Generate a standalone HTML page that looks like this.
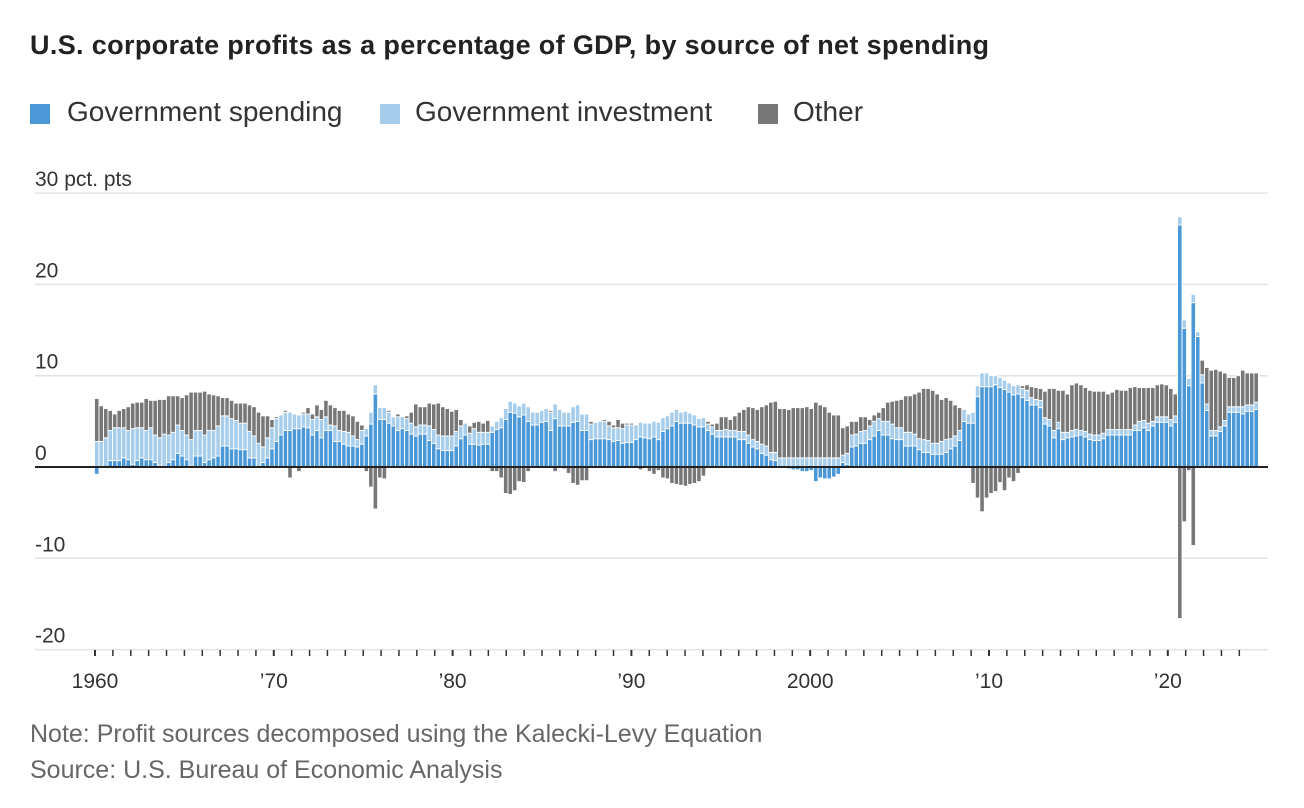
<!DOCTYPE html>
<html><head><meta charset="utf-8"><style>
body{margin:0;background:#fff;font-family:"Liberation Sans",sans-serif;}
#wrap{position:relative;width:1304px;height:808px;overflow:hidden;}
.t{position:absolute;white-space:nowrap;}
.sq{position:absolute;width:20px;height:20px;top:104px;}
.lg{position:absolute;top:96px;font-size:28px;color:#333;white-space:nowrap;}
</style></head><body>
<div id="wrap">
<div class="t" style="left:30px;top:30px;font-size:27px;font-weight:bold;color:#222;letter-spacing:0.35px;">U.S. corporate profits as a percentage of GDP, by source of net spending</div>
<div>
<div><div class="sq" style="left:30px;background:#4a98d8;"></div><div class="lg" style="left:67px;">Government spending</div></div>
<div><div class="sq" style="left:380px;background:#a6cdec;"></div><div class="lg" style="left:415px;">Government investment</div></div>
<div><div class="sq" style="left:758px;background:#777;"></div><div class="lg" style="left:793px;">Other</div></div>
</div>
<svg id="chart" width="1304" height="808" style="position:absolute;left:0;top:0;"></svg>
<div class="t" style="left:30px;top:720px;font-size:25px;color:#666;">Note: Profit sources decomposed using the Kalecki-Levy Equation</div>
<div class="t" style="left:30px;top:756px;font-size:25px;color:#666;">Source: U.S. Bureau of Economic Analysis</div>
</div>
<script>
const spending=[-0.8,0,0,0.7,0.7,0.7,1.0,0.8,0.3,0.7,1.0,0.8,0.8,0.5,0.2,0,0.5,0.8,1.5,1.2,0.8,0.1,1.2,1.2,0.5,0.8,1.0,1.2,2.3,2.3,2.0,2.0,1.9,1.9,1.0,1.0,0,0.5,1.0,2.0,
2.8,3.5,4.0,4.0,4.2,4.2,4.4,4.3,3.5,4.0,3.2,4.0,4.0,2.8,2.8,2.5,2.3,2.3,2.2,2.5,3.4,4.7,8.0,5.2,5.2,4.8,4.5,4.0,4.2,4.0,3.6,3.4,3.6,3.6,2.9,2.6,2.0,1.8,1.8,1.8,
2.3,3.1,3.5,2.5,2.5,2.4,2.5,2.5,3.8,4.1,4.3,5.2,6.0,5.9,5.5,5.7,5.0,4.6,4.6,4.9,5.0,4.0,5.3,4.5,4.5,4.5,4.9,5.0,4.0,4.0,3.0,3.1,3.1,3.1,3.0,2.8,2.9,2.6,2.7,2.7,
3.0,3.3,3.2,3.1,3.3,3.0,3.9,4.2,4.5,5.0,4.8,4.8,4.8,4.6,4.4,4.4,4.0,3.6,3.3,3.3,3.3,3.3,3.3,3.0,3.0,2.6,2.2,2.0,1.5,1.3,0.8,0.7,0,0,-0.2,-0.3,-0.3,-0.5,-0.5,-0.4,
-1.6,-1.2,-1.3,-1.3,-1.1,-0.8,0.5,0.3,2.2,2.3,2.6,2.6,3.0,3.4,4.0,3.5,3.5,3.1,3.0,3.0,2.3,2.3,2.3,1.9,1.6,1.6,1.4,1.4,1.4,1.6,2.0,2.3,2.9,5.0,4.8,4.8,7.7,8.8,8.8,8.8,
9.0,8.7,8.5,8.2,7.9,8.0,7.6,7.3,6.8,6.8,6.5,4.7,4.5,3.2,4.2,3.0,3.2,3.3,3.4,3.5,3.3,3.0,2.9,2.9,3.1,3.5,3.5,3.5,3.5,3.5,3.5,4.0,4.0,4.3,4.0,4.5,4.9,4.9,4.9,4.5,
4.9,26.5,15.2,8.9,18.0,14.3,9.2,6.2,3.4,3.4,3.9,4.5,6.0,6.0,6.0,5.8,6.1,6.1,6.3];
const investment=[2.8,2.8,3.2,3.3,3.6,3.6,3.3,3.2,3.9,3.6,3.3,3.2,3.5,3.0,3.0,3.6,3.0,3.0,3.1,2.8,2.7,2.9,2.8,2.8,3.0,3.2,3.0,3.3,3.3,3.3,3.3,3.1,2.9,2.9,2.9,2.4,2.6,1.7,2.2,2.3,
2.5,2.2,2.0,2.0,1.6,1.5,1.4,1.5,1.7,1.5,2.0,1.5,0.6,1.7,1.2,1.4,1.5,1.1,0.8,1.5,0.8,1.3,1.0,1.3,1.3,1.2,1.0,1.5,1.3,1.3,1.2,1.0,1.0,1.0,1.6,1.5,1.5,1.6,1.6,1.6,
1.6,1.4,1.3,1.2,1.7,1.4,1.3,1.3,0.7,0.9,1.1,1.2,1.2,1.1,1.2,1.3,1.6,1.4,1.4,1.3,1.4,2.0,1.6,1.8,1.5,1.5,1.7,1.8,1.8,1.8,1.7,1.8,1.9,1.9,1.5,1.5,1.4,1.6,1.9,1.9,
1.6,1.6,1.6,1.7,1.7,1.9,1.5,1.4,1.5,1.3,1.2,1.3,1.1,1.1,0.9,1.0,0.7,0.8,0.7,0.7,0.8,0.7,0.7,0.9,0.9,0.9,0.8,0.8,1.0,1.0,0.8,0.9,1.0,1.0,1.0,1.0,1.0,1.0,1.0,1.0,
1.0,1.0,1.0,1.0,1.0,1.0,0.8,1.2,1.3,1.3,1.3,1.4,1.5,1.6,1.3,1.5,1.5,1.6,1.3,1.3,1.5,1.5,1.3,1.2,1.4,1.3,1.2,1.2,1.4,1.4,1.1,1.1,1.1,1.3,1.0,1.2,1.2,1.5,1.5,1.2,
1.0,1.1,1.0,1.0,1.0,1.0,1.0,1.1,0.8,0.6,0.8,0.7,0.7,0.8,0.7,0.8,0.6,0.7,0.7,0.5,0.6,0.6,0.6,0.6,0.6,0.6,0.6,0.6,0.6,0.6,0.6,0.6,1.0,0.8,0.8,0.5,0.6,0.6,0.6,0.7,
0.7,0.9,0.9,0.8,0.9,0.5,0.9,0.7,0.6,0.6,0.5,0.6,0.6,0.6,0.6,0.8,0.7,0.7,0.8];
const other=[4.7,3.9,3.2,2.2,1.5,1.9,2.1,2.6,2.8,2.8,2.8,3.5,3.0,3.8,4.2,3.8,4.3,4.0,3.2,3.6,4.4,5.2,4.2,4.2,4.8,4.0,3.9,3.3,2.0,2.0,2.0,1.9,2.2,2.2,2.9,3.2,3.4,3.4,2.4,0.9,
0.2,0,0.2,-1.2,-0.1,-0.5,0.2,0.7,0.6,1.3,1.1,1.8,2.2,2.0,2.2,2.3,2.0,2.2,2.0,0.6,-0.5,-2.2,-4.6,-1.2,-1.3,0.2,0.1,0.3,0,0.3,1.2,2.5,2.0,2.0,2.5,2.8,3.5,3.2,3.0,2.7,
2.4,0.7,0,0.8,0.7,1.2,1.0,1.3,-0.5,-0.5,-1.2,-2.9,-3.0,-2.6,-1.6,-1.7,-0.5,0,0,0,0,0.2,-0.5,0,-0.2,-0.7,-1.8,-2.0,-1.5,-1.5,0.3,0.1,0.1,0.2,0.5,0.3,0.9,0.6,0.2,0.2,
0,-0.3,0,-0.5,-0.8,-0.4,-1.2,-1.3,-1.8,-1.9,-2.0,-2.1,-1.9,-1.8,-1.6,-1.0,0.3,0.3,0.8,1.5,1.4,1.2,1.6,2.1,2.4,3.1,3.5,3.5,4.1,4.5,5.5,5.6,5.4,5.4,5.3,5.5,5.5,5.5,5.6,5.4,
6.1,5.8,5.6,5.0,4.7,4.7,3.0,3.0,1.5,1.4,1.6,1.5,0.7,0.7,0.7,1.5,2.1,2.5,3.0,3.1,4.0,4.0,4.4,5.1,5.6,5.7,5.8,5.4,4.6,4.6,4.2,3.4,2.5,0,0,-1.8,-3.4,-4.9,-3.4,-2.9,
-2.7,-1.7,-2.6,-1.2,-1.6,-0.7,0.3,0.6,1.2,1.3,1.3,2.9,3.4,4.6,3.5,4.6,4.2,5.0,5.1,5.0,4.8,4.8,4.8,4.8,4.6,3.9,4.1,4.4,4.3,4.3,4.6,4.2,3.7,3.6,3.9,3.7,3.5,3.6,3.5,3.4,
2.4,-16.6,-6.0,-0.4,-8.6,0,1.6,4.0,6.6,6.7,6.1,5.2,3.2,3.2,3.4,4.0,3.5,3.5,3.2];
const yTicks=[-20,-10,0,10,20,30];
const yTickLabels=["-20","-10","0","10","20","30 pct. pts"];
const xTickYears=[1960,1970,1980,1990,2000,2010,2020];
const xTickLabels=["1960","\u201970","\u201980","\u201990","2000","\u201910","\u201920"];

const NS="http://www.w3.org/2000/svg";
const svg=document.getElementById('chart');
const yScale=v=>467-v*9.13;
const xYear=yr=>95+(yr-1960)*17.88;
const barX=i=>94.5+i*4.494;
const BW=4.494;
function mk(tag,attrs){const e=document.createElementNS(NS,tag);for(const k in attrs)e.setAttribute(k,attrs[k]);svg.appendChild(e);return e;}

yTicks.forEach((t,k)=>{
  if(t!==0){const g=mk('line',{x1:35,x2:1268,y1:yScale(t),y2:yScale(t),stroke:'#e2e2e2','stroke-width':1.5});
  
  }
  const tx=mk('text',{x:35,y:yScale(t)-7,'font-size':21,fill:'#333','font-family':'Liberation Sans, sans-serif'});
  tx.textContent=yTickLabels[k];
  
  
});

function bar(x,y0,y1,fill){
  const top=Math.min(yScale(y0),yScale(y1)),h=Math.abs(yScale(y0)-yScale(y1));
  if(h<=0)return;
  const r=mk('rect',{x:x,y:top,width:BW,height:h,fill:fill,stroke:'#fff','stroke-width':0.9});
  return r;
}
for(let i=0;i<spending.length;i++){
  const x=barX(i);
  const s=spending[i],inv=investment[i],o=other[i];
  let r=bar(x,0,s,'#4a98d8');
  if(r){
  }
  const base=Math.max(s,0);
  r=bar(x,base,base+inv,'#a6cdec');
  if(r){
  }
  if(o>=0){r=bar(x,base+inv,base+inv+o,'#777');}
  else{const nb=Math.min(s,0);r=bar(x,nb,nb+o,'#777');}
  if(r){
  }
}
const zl=mk('line',{x1:35,x2:1268,y1:yScale(0),y2:yScale(0),stroke:'#222','stroke-width':2});



for(let yr=1960;yr<=2024;yr++){
  const tk=mk('line',{x1:xYear(yr),x2:xYear(yr),y1:650,y2:656,stroke:'#333','stroke-width':yr%10===0?2:1.5});
  
  
}
xTickYears.forEach((yr,k)=>{
  const tx=mk('text',{x:xYear(yr),y:688,'font-size':21,fill:'#333','text-anchor':'middle','font-family':'Liberation Sans, sans-serif'});
  tx.textContent=xTickLabels[k];
  
  
});
</script>
</body></html>
